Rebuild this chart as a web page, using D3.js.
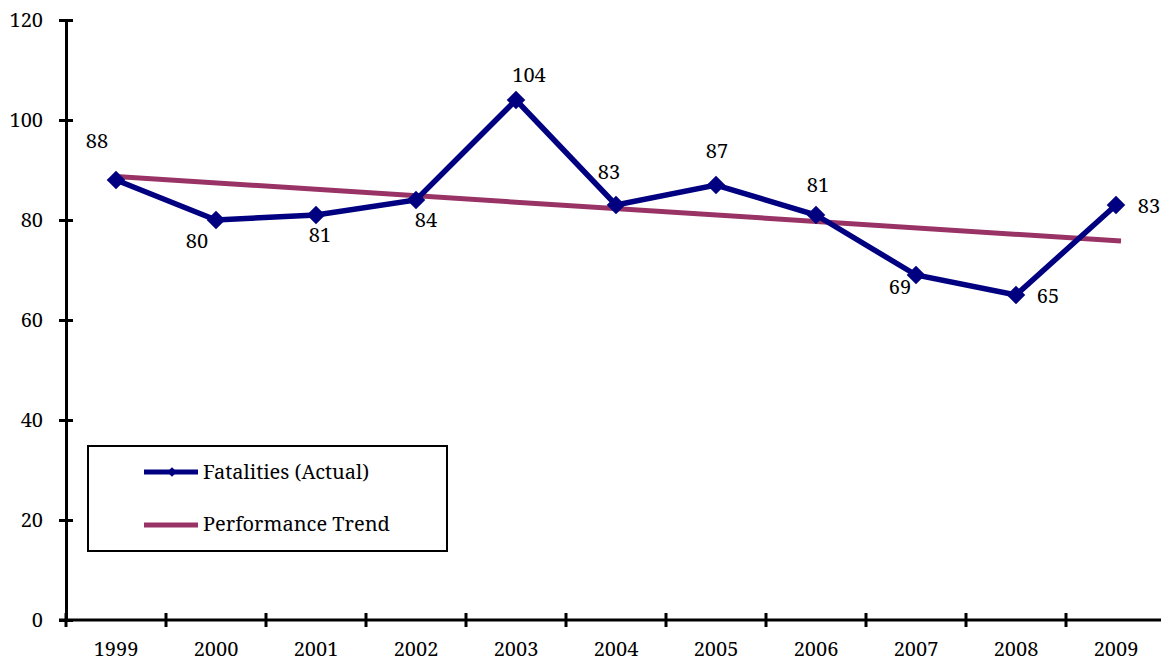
<!DOCTYPE html>
<html><head><meta charset="utf-8">
<script src="https://cdn.jsdelivr.net/npm/d3@7"></script>
<style>body{margin:0;background:#fff}svg{display:block}text{font-family:"Noto Serif","Liberation Serif",serif;fill:#000}</style>
</head><body><svg id="c" width="1161" height="662"></svg>
<script>
const years = ["1999","2000","2001","2002","2003","2004","2005","2006","2007","2008","2009"];
const fatalities = [88,80,81,84,104,83,87,81,69,65,83];
const trendYears = ["1999","2009"];
const trendValues = [88.7,75.8];
const yTicks = [0,20,40,60,80,100,120];
const seriesNames = ["Fatalities (Actual)","Performance Trend"];
// label placement relative to each marker (layout, not data)
const labelOffsets = [[-19,-32],[-19,28],[4,27],[10,27],[13,-18],[-7,-26],[1,-27],[2,-23],[-16,19],[32,8],[33,8]];

(function(){
const svg = d3.select("#c");
const W = 1161;
const mLeft = 66, mTop = 20, mBottom = 620;
const x = d3.scaleBand().domain(years).range([mLeft, mLeft + 100*years.length]);
const y = d3.scaleLinear().domain([0,120]).range([mBottom, mTop]);
const cx = d => x(d) + x.bandwidth()/2;
const FS = "20px";

// y axis
const yAxis = svg.append("g").attr("transform",`translate(${mLeft},0)`)
  .call(d3.axisLeft(y).tickValues(yTicks).tickSizeInner(7).tickSizeOuter(0).tickPadding(16));
yAxis.attr("font-family",null);
yAxis.select(".domain").attr("stroke","#000").attr("stroke-width",3);
yAxis.selectAll(".tick line").attr("stroke","#000").attr("stroke-width",3).attr("x2",7).attr("x1",-7);
yAxis.selectAll(".tick text").style("font-size",FS);

// x axis
const xTickPos = d3.range(years.length+1).map(i => mLeft + i*100);
svg.append("line").attr("x1",mLeft-7).attr("x2",W).attr("y1",mBottom).attr("y2",mBottom).attr("stroke","#000").attr("stroke-width",3);
svg.selectAll(".xt").data(xTickPos).join("line").attr("x1",d=>d).attr("x2",d=>d).attr("y1",mBottom-7).attr("y2",mBottom+7).attr("stroke","#000").attr("stroke-width",3);
svg.selectAll(".xl").data(years).join("text").attr("x",d=>cx(d)).attr("y",mBottom+36).attr("text-anchor","middle").style("font-size",FS).text(d=>d);

// trend
svg.append("line").attr("x1",cx(trendYears[0])).attr("y1",y(trendValues[0])).attr("x2",cx(trendYears[1])+5).attr("y2",y(trendValues[1]))
  .attr("stroke","#993366").attr("stroke-width",5);

// series
const line = d3.line().x((d,i)=>cx(years[i])).y(d=>y(d));
svg.append("path").datum(fatalities).attr("d",line).attr("fill","none").attr("stroke","#000080").attr("stroke-width",5.5).attr("stroke-linejoin","miter");
const diamond = d3.symbol().type(d3.symbolDiamond2).size(220);
svg.selectAll(".mk").data(fatalities).join("path").attr("d",diamond)
  .attr("transform",(d,i)=>`translate(${cx(years[i])},${y(d)})`).attr("fill","#000080");

svg.selectAll(".dl").data(fatalities).join("text")
  .attr("x",(d,i)=>cx(years[i])+labelOffsets[i][0])
  .attr("y",(d,i)=>y(d)+labelOffsets[i][1])
  .attr("text-anchor","middle").style("font-size",FS).text(d=>d);

// legend
const lg = svg.append("g");
lg.append("rect").attr("x",88).attr("y",446).attr("width",359).attr("height",105).attr("fill","none").attr("stroke","#000").attr("stroke-width",2);
lg.append("line").attr("x1",144).attr("x2",198).attr("y1",472).attr("y2",472).attr("stroke","#000080").attr("stroke-width",5);
lg.append("path").attr("d",d3.symbol().type(d3.symbolDiamond2).size(60)).attr("transform","translate(172,472)").attr("fill","#000080");
lg.append("line").attr("x1",144).attr("x2",198).attr("y1",525).attr("y2",525).attr("stroke","#993366").attr("stroke-width",5);
lg.selectAll(".lt").data(seriesNames).join("text").attr("x",203).attr("y",(d,i)=>479+i*52).style("font-size",FS).text(d=>d);
})();
</script></body></html>
